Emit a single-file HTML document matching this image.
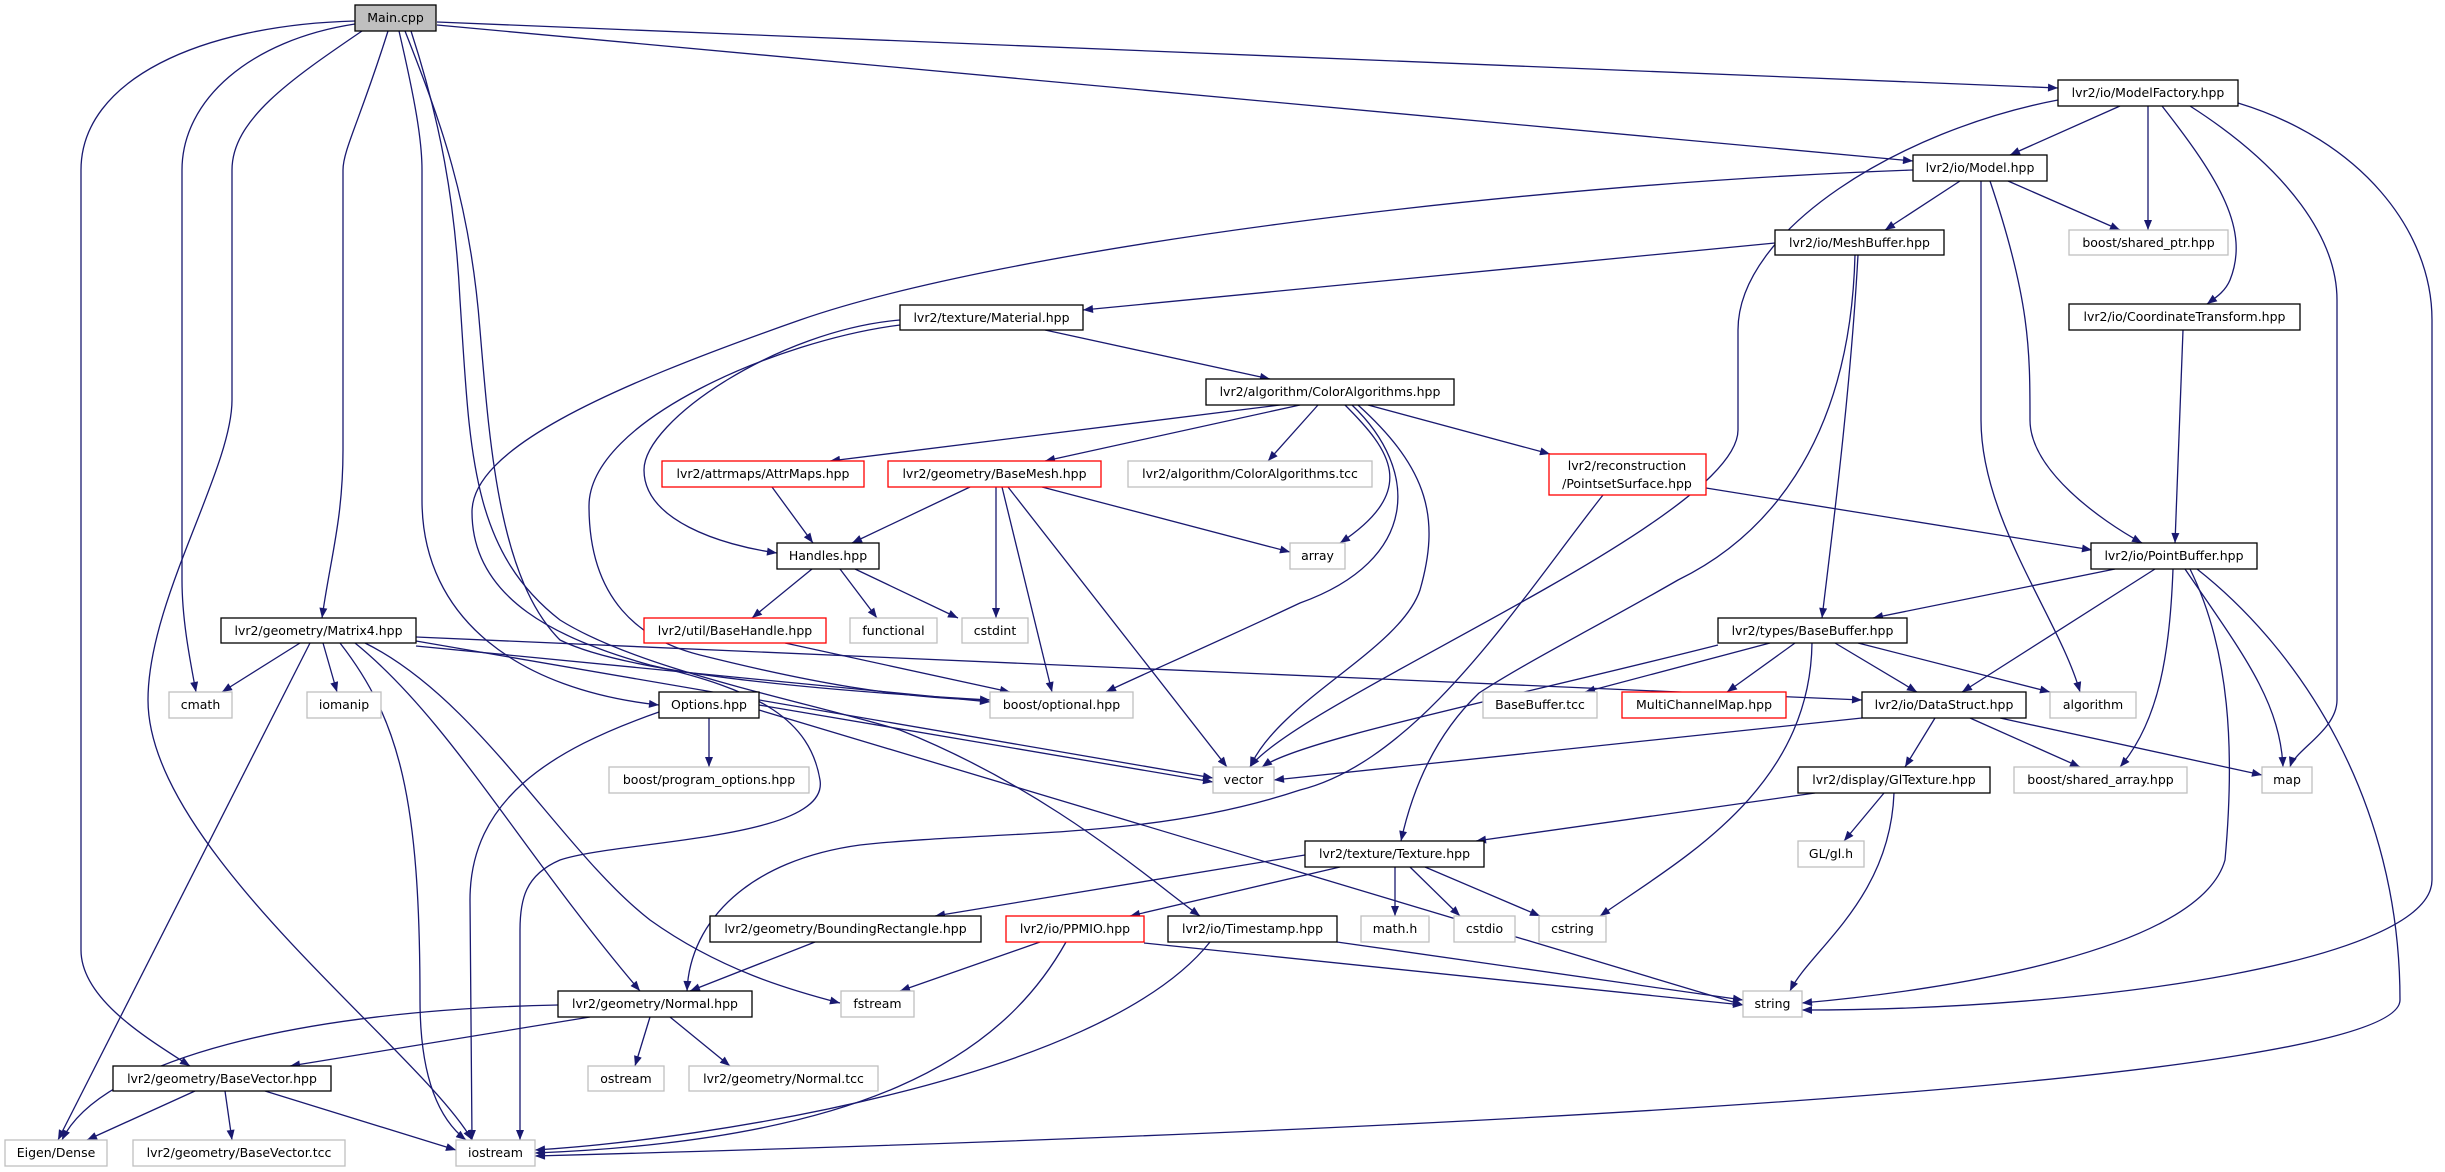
<!DOCTYPE html>
<html><head><meta charset="utf-8"><style>
html,body{margin:0;padding:0;background:#fff;}
svg{display:block;}
text{font-family:"DejaVu Sans","Liberation Sans",sans-serif;font-size:12.5px;fill:#000;text-anchor:middle;}
.e{fill:none;stroke:#191970;stroke-width:1.3;marker-end:url(#a);}
.n rect{fill:#fff;stroke:#000;stroke-width:1.3;}
.g rect{fill:#fff;stroke:#bfbfbf;stroke-width:1.3;}
.r rect{fill:#fff;stroke:#ff0000;stroke-width:1.3;}
</style></head><body>
<svg width="2445" height="1172" viewBox="0 0 2445 1172" xmlns="http://www.w3.org/2000/svg">
<defs><marker id="a" viewBox="0 0 10 8" refX="10" refY="4" markerWidth="11" markerHeight="8" markerUnits="userSpaceOnUse" orient="auto"><path d="M0,0L10,4L0,8z" fill="#191970"/></marker></defs>

<!-- edges -->
<path class="e" d="M437,22 L2058,88"/>
<path class="e" d="M437,25 L1913,161"/>
<path class="e" d="M355,21 C200,25 81,80 81,170 L81,950 C81,1000 150,1040 190,1066"/>
<path class="e" d="M355,24 C250,40 182,100 182,170 L182,580 C182,620 190,660 196,692"/>
<path class="e" d="M362,31 C290,80 232,120 232,170 L232,400 C232,470 148,600 148,700 C148,850 420,1050 472,1140"/>
<path class="e" d="M388,31 C360,120 343,150 343,170 L343,450 C343,520 330,560 322,618"/>
<path class="e" d="M399,31 C415,100 422,140 422,170 L422,500 C422,620 520,690 659,705"/>
<path class="e" d="M405,31 C440,120 470,200 480,330 C490,450 500,580 560,640 C640,680 900,695 990,700"/>
<path class="e" d="M411,31 C440,120 455,200 460,300 C470,450 470,550 560,620 C640,670 800,700 900,730 C1050,790 1150,880 1200,916"/>

<path class="e" d="M1913,170 C1500,185 1000,250 800,320 C600,390 472,450 472,512 C472,600 560,640 650,665 C760,690 810,720 820,780 C830,840 620,840 560,860 C525,875 520,900 520,930 L520,1140"/>
<path class="e" d="M900,320 C780,330 644,420 644,470 C644,520 720,545 777,553"/>
<path class="e" d="M900,325 C780,340 589,420 589,506 C589,600 640,640 700,655 C800,680 900,700 1000,700"/>
<path class="e" d="M1045,330 L1270,379"/>

<path class="e" d="M2120,106 L2010,155"/>
<path class="e" d="M2148,106 L2148,230"/>
<path class="e" d="M2162,106 C2220,180 2250,230 2230,280 C2225,292 2215,298 2207,304"/>
<path class="e" d="M2190,106 C2290,170 2337,240 2337,300 L2337,700 C2337,730 2295,750 2290,767"/>
<path class="e" d="M2238,103 C2360,140 2432,230 2432,320 L2432,880 C2432,960 2100,1010 1802,1010"/>
<path class="e" d="M2058,100 C1900,130 1738,230 1738,330 L1738,430 C1738,520 1300,700 1250,767"/>

<path class="e" d="M1960,181 L1885,230"/>
<path class="e" d="M2008,181 L2120,230"/>
<path class="e" d="M1981,181 L1981,420 C1981,520 2060,620 2080,692"/>
<path class="e" d="M1990,181 C2030,300 2030,350 2030,420 C2030,470 2100,520 2142,543"/>
<path class="e" d="M2183,330 L2175,543"/>
<path class="e" d="M1706,488 L2092,550"/>
<path class="e" d="M1603,495 C1520,600 1420,760 1300,790 C1150,840 1000,830 860,845 C750,860 690,920 687,991"/>

<path class="e" d="M1775,243 L1083,310"/>
<path class="e" d="M1858,255 C1850,400 1830,550 1822,618"/>
<path class="e" d="M1855,255 C1850,450 1760,540 1678,580 C1600,625 1530,660 1479,693 C1430,740 1410,800 1401,841"/>

<path class="e" d="M1280,405 L830,461"/>
<path class="e" d="M1300,405 L1045,461"/>
<path class="e" d="M1318,405 L1268,461"/>
<path class="e" d="M1368,405 L1550,454"/>
<path class="e" d="M1345,405 C1390,450 1420,490 1340,543"/>
<path class="e" d="M1352,405 C1420,470 1420,560 1300,603 C1200,650 1130,680 1106,692"/>
<path class="e" d="M1358,405 C1430,470 1440,520 1420,590 C1400,650 1280,700 1250,767"/>

<path class="e" d="M970,487 L852,543"/>
<path class="e" d="M996,487 L996,618"/>
<path class="e" d="M1002,487 L1052,692"/>
<path class="e" d="M1008,487 L1227,767"/>
<path class="e" d="M1042,487 L1290,552"/>
<path class="e" d="M772,487 L813,543"/>
<path class="e" d="M812,569 L752,618"/>
<path class="e" d="M840,569 L877,618"/>
<path class="e" d="M855,569 L958,618"/>
<path class="e" d="M785,643 L1010,692"/>

<path class="e" d="M300,643 L222,692"/>
<path class="e" d="M323,643 L337,692"/>
<path class="e" d="M310,643 L58,1140"/>
<path class="e" d="M340,643 C400,720 420,800 420,1000 C420,1080 440,1120 466,1140"/>
<path class="e" d="M355,643 C450,720 520,850 640,991"/>
<path class="e" d="M365,643 C480,700 560,850 650,920 C720,970 790,990 840,1003"/>
<path class="e" d="M416,646 L990,702"/>
<path class="e" d="M416,637 L1862,700"/>
<path class="e" d="M416,641 L1213,778"/>

<path class="e" d="M709,718 L709,767"/>
<path class="e" d="M759,705 L1213,782"/>
<path class="e" d="M759,710 L1743,1005"/>
<path class="e" d="M659,712 C550,750 470,800 470,900 L472,1140"/>

<path class="e" d="M815,942 L690,991"/>
<path class="e" d="M1305,855 L935,916"/>
<path class="e" d="M1340,867 L1130,916"/>
<path class="e" d="M1395,867 L1395,916"/>
<path class="e" d="M1410,867 L1460,916"/>
<path class="e" d="M1425,867 L1540,916"/>
<path class="e" d="M1040,942 L900,991"/>
<path class="e" d="M1144,943 L1743,1005"/>
<path class="e" d="M1066,942 C1000,1060 860,1140 535,1153"/>
<path class="e" d="M1337,942 L1743,1000"/>
<path class="e" d="M1210,942 C1100,1080 700,1140 535,1150"/>

<path class="e" d="M558,1005 C300,1010 100,1060 62,1140"/>
<path class="e" d="M590,1017 L290,1066"/>
<path class="e" d="M650,1017 L635,1066"/>
<path class="e" d="M670,1017 L730,1066"/>
<path class="e" d="M195,1091 L87,1140"/>
<path class="e" d="M225,1091 L232,1140"/>
<path class="e" d="M265,1091 L456,1150"/>

<path class="e" d="M2115,569 L1873,618"/>
<path class="e" d="M2155,569 L1962,692"/>
<path class="e" d="M2173,569 C2170,650 2160,720 2120,767"/>
<path class="e" d="M2185,569 C2240,650 2280,700 2283,767"/>
<path class="e" d="M2190,569 C2230,650 2235,750 2225,860 C2200,950 1950,990 1802,1003"/>
<path class="e" d="M2197,569 C2300,650 2400,800 2400,1000 C2400,1080 1500,1130 535,1156"/>

<path class="e" d="M1718,645 C1500,700 1300,740 1262,767"/>
<path class="e" d="M1770,643 L1585,692"/>
<path class="e" d="M1795,643 L1727,692"/>
<path class="e" d="M1835,643 L1917,692"/>
<path class="e" d="M1858,643 L2050,692"/>
<path class="e" d="M1812,643 C1810,790 1680,860 1600,916"/>
<path class="e" d="M1862,718 L1274,780"/>
<path class="e" d="M1935,718 L1905,767"/>
<path class="e" d="M1970,718 L2080,767"/>
<path class="e" d="M2000,718 L2262,775"/>
<path class="e" d="M1815,793 L1476,841"/>
<path class="e" d="M1884,793 L1844,841"/>
<path class="e" d="M1894,793 C1890,900 1810,950 1790,991"/>

<!-- nodes -->
<g><rect x="355" y="5" width="81" height="26" fill="#bfbfbf" stroke="#000" stroke-width="1.3"/><text x="395.5" y="22">Main.cpp</text></g>
<g class="n"><rect x="2058" y="80" width="180" height="26"/><text x="2148" y="97">lvr2/io/ModelFactory.hpp</text></g>
<g class="n"><rect x="1913" y="155" width="134" height="26"/><text x="1980" y="172">lvr2/io/Model.hpp</text></g>
<g class="n"><rect x="1775" y="230" width="169" height="25"/><text x="1859.5" y="247">lvr2/io/MeshBuffer.hpp</text></g>
<g class="g"><rect x="2069" y="230" width="159" height="25"/><text x="2148.5" y="247">boost/shared_ptr.hpp</text></g>
<g class="n"><rect x="2069" y="304" width="231" height="26"/><text x="2184.5" y="321">lvr2/io/CoordinateTransform.hpp</text></g>
<g class="n"><rect x="900" y="305" width="183" height="25"/><text x="991.5" y="322">lvr2/texture/Material.hpp</text></g>
<g class="n"><rect x="1206" y="379" width="248" height="26"/><text x="1330" y="396">lvr2/algorithm/ColorAlgorithms.hpp</text></g>
<g class="r"><rect x="662" y="461" width="202" height="26"/><text x="763" y="478">lvr2/attrmaps/AttrMaps.hpp</text></g>
<g class="r"><rect x="888" y="461" width="213" height="26"/><text x="994.5" y="478">lvr2/geometry/BaseMesh.hpp</text></g>
<g class="g"><rect x="1128" y="461" width="244" height="26"/><text x="1250" y="478">lvr2/algorithm/ColorAlgorithms.tcc</text></g>
<g class="r"><rect x="1549" y="454" width="157" height="41"/><text x="1627" y="470">lvr2/reconstruction</text><text x="1627" y="488">/PointsetSurface.hpp</text></g>
<g class="n"><rect x="777" y="543" width="102" height="26"/><text x="828" y="560">Handles.hpp</text></g>
<g class="g"><rect x="1290" y="543" width="55" height="26"/><text x="1317.5" y="560">array</text></g>
<g class="n"><rect x="2091" y="543" width="166" height="26"/><text x="2174" y="560">lvr2/io/PointBuffer.hpp</text></g>
<g class="n"><rect x="221" y="618" width="195" height="25"/><text x="318.5" y="635">lvr2/geometry/Matrix4.hpp</text></g>
<g class="r"><rect x="644" y="618" width="182" height="25"/><text x="735" y="635">lvr2/util/BaseHandle.hpp</text></g>
<g class="g"><rect x="850" y="618" width="87" height="25"/><text x="893.5" y="635">functional</text></g>
<g class="g"><rect x="962" y="618" width="66" height="25"/><text x="995" y="635">cstdint</text></g>
<g class="n"><rect x="1718" y="618" width="189" height="25"/><text x="1812.5" y="635">lvr2/types/BaseBuffer.hpp</text></g>
<g class="g"><rect x="169" y="692" width="63" height="26"/><text x="200.5" y="709">cmath</text></g>
<g class="g"><rect x="307" y="692" width="74" height="26"/><text x="344" y="709">iomanip</text></g>
<g class="n"><rect x="659" y="692" width="100" height="26"/><text x="709" y="709">Options.hpp</text></g>
<g class="g"><rect x="990" y="692" width="143" height="26"/><text x="1061.5" y="709">boost/optional.hpp</text></g>
<g class="g"><rect x="1483" y="692" width="114" height="26"/><text x="1540" y="709">BaseBuffer.tcc</text></g>
<g class="r"><rect x="1622" y="692" width="164" height="26"/><text x="1704" y="709">MultiChannelMap.hpp</text></g>
<g class="n"><rect x="1862" y="692" width="164" height="26"/><text x="1944" y="709">lvr2/io/DataStruct.hpp</text></g>
<g class="g"><rect x="2050" y="692" width="86" height="26"/><text x="2093" y="709">algorithm</text></g>
<g class="g"><rect x="609" y="767" width="200" height="26"/><text x="709" y="784">boost/program_options.hpp</text></g>
<g class="g"><rect x="1213" y="767" width="61" height="26"/><text x="1243.5" y="784">vector</text></g>
<g class="n"><rect x="1798" y="767" width="192" height="26"/><text x="1894" y="784">lvr2/display/GlTexture.hpp</text></g>
<g class="g"><rect x="2014" y="767" width="173" height="26"/><text x="2100.5" y="784">boost/shared_array.hpp</text></g>
<g class="g"><rect x="2262" y="767" width="50" height="26"/><text x="2287" y="784">map</text></g>
<g class="n"><rect x="1305" y="841" width="179" height="26"/><text x="1394.5" y="858">lvr2/texture/Texture.hpp</text></g>
<g class="g"><rect x="1798" y="841" width="66" height="26"/><text x="1831" y="858">GL/gl.h</text></g>
<g class="n"><rect x="710" y="916" width="271" height="26"/><text x="845.5" y="933">lvr2/geometry/BoundingRectangle.hpp</text></g>
<g class="r"><rect x="1006" y="916" width="138" height="26"/><text x="1075" y="933">lvr2/io/PPMIO.hpp</text></g>
<g class="n"><rect x="1168" y="916" width="169" height="26"/><text x="1252.5" y="933">lvr2/io/Timestamp.hpp</text></g>
<g class="g"><rect x="1361" y="916" width="68" height="26"/><text x="1395" y="933">math.h</text></g>
<g class="g"><rect x="1454" y="916" width="61" height="26"/><text x="1484.5" y="933">cstdio</text></g>
<g class="g"><rect x="1539" y="916" width="67" height="26"/><text x="1572.5" y="933">cstring</text></g>
<g class="n"><rect x="558" y="991" width="194" height="26"/><text x="655" y="1008">lvr2/geometry/Normal.hpp</text></g>
<g class="g"><rect x="841" y="991" width="73" height="26"/><text x="877.5" y="1008">fstream</text></g>
<g class="g"><rect x="1743" y="991" width="59" height="26"/><text x="1772.5" y="1008">string</text></g>
<g class="n"><rect x="113" y="1066" width="218" height="25"/><text x="222" y="1083">lvr2/geometry/BaseVector.hpp</text></g>
<g class="g"><rect x="588" y="1066" width="76" height="25"/><text x="626" y="1083">ostream</text></g>
<g class="g"><rect x="689" y="1066" width="189" height="25"/><text x="783.5" y="1083">lvr2/geometry/Normal.tcc</text></g>
<g class="g"><rect x="5" y="1140" width="102" height="26"/><text x="56" y="1157">Eigen/Dense</text></g>
<g class="g"><rect x="133" y="1140" width="212" height="26"/><text x="239" y="1157">lvr2/geometry/BaseVector.tcc</text></g>
<g class="g"><rect x="456" y="1140" width="79" height="26"/><text x="495.5" y="1157">iostream</text></g>
</svg>
</body></html>
